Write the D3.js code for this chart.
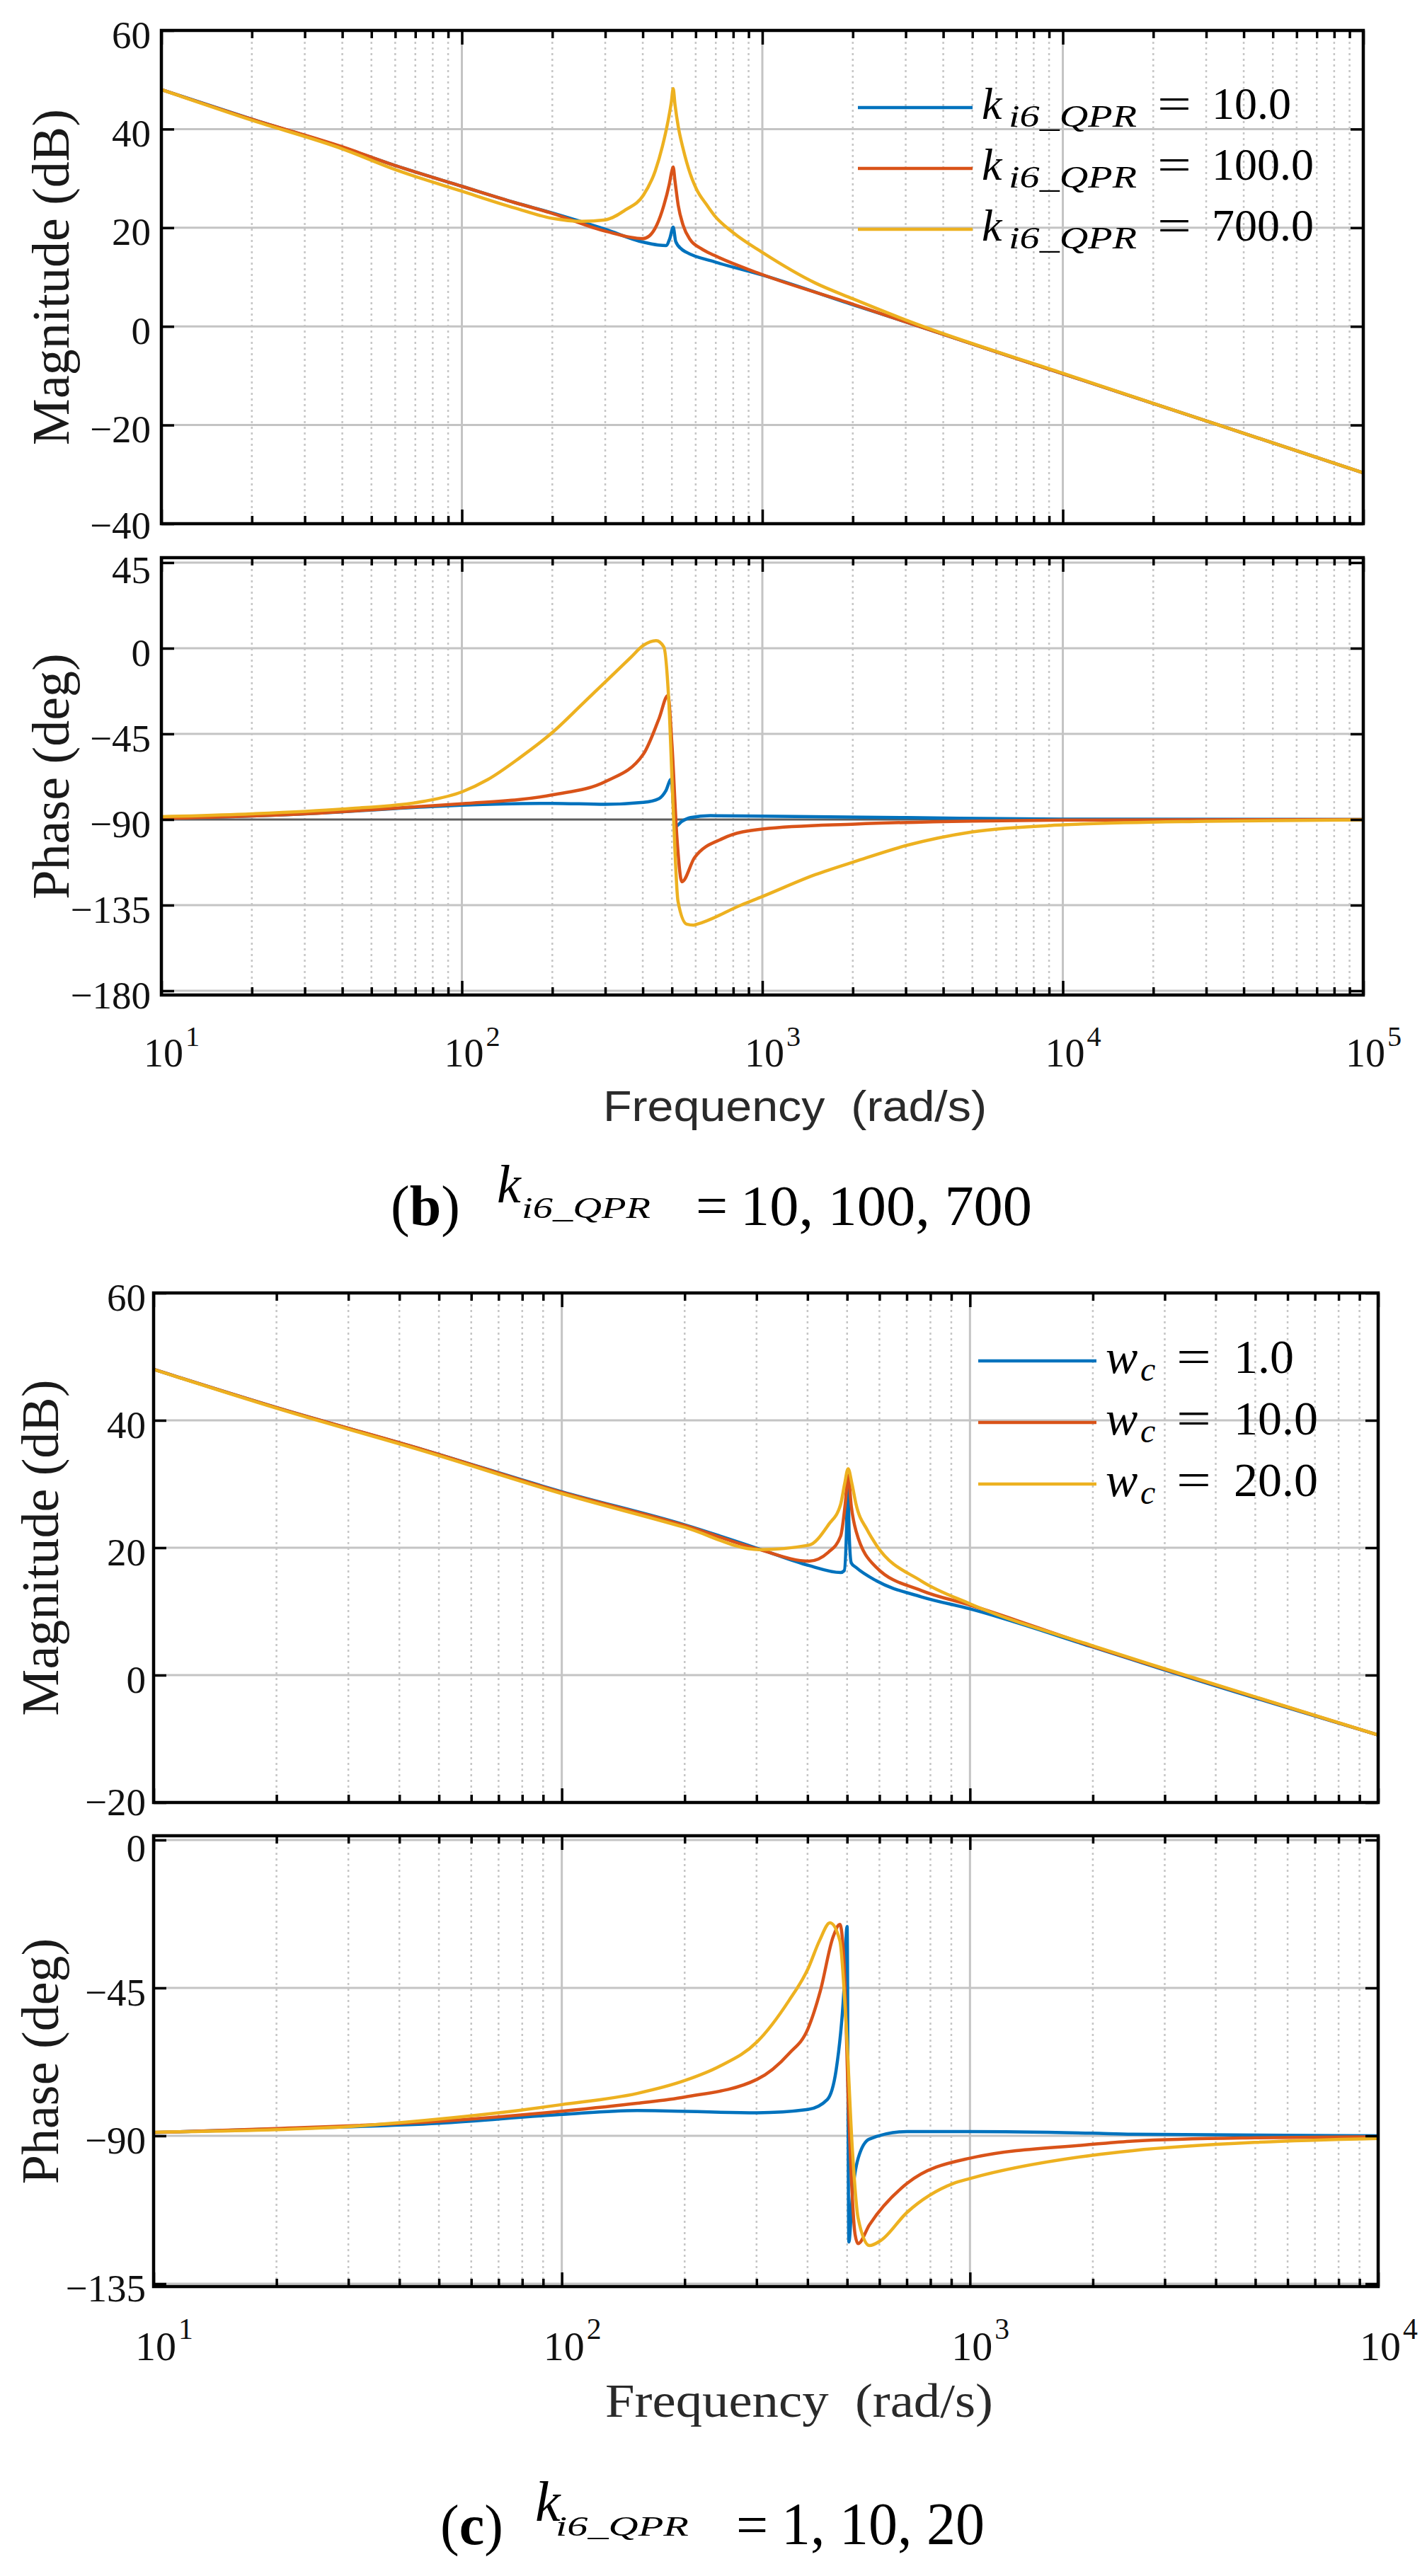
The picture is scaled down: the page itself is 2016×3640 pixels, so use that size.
<!DOCTYPE html>
<html>
<head>
<meta charset="utf-8">
<script src="https://cdn.jsdelivr.net/npm/d3@7"></script>
<style>
  body { margin: 0; background: #fff; }
  svg { display: block; }
</style>
</head>
<body>
<div id="chart"></div>
<script>
const W = 2016,
      H = 3640;

const colors = ['#0072BD', '#D95319', '#EDB120'];
const serif = "'Liberation Serif', 'Times New Roman', serif";
const sans = "'Liberation Sans', Arial, sans-serif";

// (b) k_i6_QPR = 10, 100, 700   -> [rad/s, value]
const magB10 = [[10,48],[20,42],[40,36.3],[60,32.6],[100,28.4],[150,25.1],[200,23.0],[300,19.7],[400,17.1],[450,16.5],[478,16.4],[492,17.8],[505,20.1],[515,17.2],[540,15.6],[560,15.0],[692,13.1],[1000,10.4],[2000,4.4],[3000,0.9],[10000,-9.6],[31600,-19.6],[100000,-29.7]];
const magB100 = [[10,48],[20,42],[40,36.4],[60,32.6],[100,28.4],[150,25.1],[200,22.9],[300,19.3],[400,17.8],[420,18.3],[445,20.5],[470,24.5],[490,28.8],[500,31.5],[505,32.3],[512,29.5],[525,24.5],[545,20.5],[575,17.6],[625,15.8],[692,14.4],[1000,10.5],[2000,4.5],[3000,0.9],[10000,-9.6],[31600,-19.6],[100000,-29.7]];
const magB700 = [[10,48],[20,41.8],[40,36.0],[60,31.8],[100,27.4],[150,24.0],[200,21.9],[250,21.3],[300,21.6],[350,23.6],[402,26.6],[440,31.5],[465,36.5],[485,41.5],[498,45.5],[505,48.2],[512,45],[525,40.5],[545,36],[575,31],[604,27.8],[650,24.8],[692,22.5],[800,19.0],[1000,15.0],[1500,8.8],[2000,5.6],[3000,1.3],[10000,-9.5],[31600,-19.6],[100000,-29.7]];

const phaseB10 = [[10,-89.5],[30,-87],[75,-83.4],[100,-82.5],[200,-81.5],[300,-82],[402,-81],[453,-79],[477,-75],[497,-68.9],[513,-93.7],[540,-91],[577,-89],[672,-88],[1000,-88.2],[3040,-89],[10000,-89.8],[100000,-90]];
const phaseB100 = [[10,-89.5],[30,-87],[75,-83],[100,-81.7],[201,-77],[301,-70],[402,-55.6],[453,-37],[485,-24.8],[500,-50],[520,-100],[540,-122.7],[595,-110],[738,-100],[1000,-95],[2040,-92.4],[5000,-90.8],[10000,-90.3],[100000,-90]];
const phaseB700 = [[10,-88.5],[20,-87],[40,-84.5],[75,-80.4],[100,-75.5],[122,-69],[156,-57.5],[201,-44],[253,-29],[301,-17.5],[364,-5],[402,1.5],[443,4],[470,0.7],[488,-27],[505,-84],[524,-133],[560,-145],[590,-145.5],[607,-145],[849,-135],[1000,-130.5],[1500,-119],[2040,-112],[3040,-103.5],[5000,-96.5],[10000,-92.8],[30000,-90.9],[100000,-90.2]];

const legendB = ['10.0', '100.0', '700.0'];

// (c) w_c = 1, 10, 20
const magC1 = [[10,48],[20,42],[46.3,35.3],[100,28.8],[200,23.6],[305,19.8],[403,17.2],[482,16.1],[492,16.4],[498,22],[502,31.0],[506,22],[512,17.6],[526,16.9],[590,14.8],[759,12.3],[1000,10.4],[2000,4.4],[3000,0.8],[10000,-9.4]];
const magC10 = [[10,48],[20,42],[46.3,35.3],[100,28.7],[200,23.5],[305,19.7],[403,17.9],[450,19.3],[482,21.8],[495,27.0],[503,31.4],[512,26.5],[526,22.6],[590,16.9],[759,13.3],[1000,11.0],[2000,4.5],[3000,0.9],[10000,-9.4]];
const magC20 = [[10,48],[20,41.9],[46.3,35.1],[100,28.5],[200,23.2],[305,19.7],[403,20.4],[450,23.6],[482,26.8],[493,30.0],[503,32.4],[514,30.0],[526,26.8],[560,22.8],[590,20.4],[759,14.8],[1000,11.2],[2000,4.6],[3000,1.0],[10000,-9.4]];

const phaseC1 = [[10,-89],[20,-87.9],[50,-86.2],[100,-83.5],[153,-82.3],[301,-83],[401,-82],[447,-79],[470,-70],[491,-45.9],[500,-26.3],[505,-122.3],[515,-108],[532,-96.9],[567,-91],[701,-88.7],[1000,-88.7],[1995,-89.2],[2505,-89.5],[10000,-90]];
const phaseC10 = [[10,-89],[20,-87.8],[50,-85.6],[100,-82.5],[153,-80.1],[200,-78.2],[301,-72.8],[360,-65],[401,-57.4],[430,-45.9],[462,-29.5],[480,-25.7],[491,-36.4],[505,-84.4],[523,-120],[532,-122.8],[567,-117.1],[701,-104.5],[1000,-96.8],[1995,-92.6],[2505,-91.6],[5000,-90.6],[10000,-90.3]];
const phaseC20 = [[10,-88.9],[20,-88.1],[30,-87.2],[40,-86],[70,-83],[100,-80.5],[153,-77.1],[200,-73.2],[243,-68.9],[301,-61.4],[360,-48.9],[401,-39.2],[428,-30.6],[454,-25.2],[480,-30.6],[497,-55.6],[515,-94],[532,-115],[567,-123.4],[604,-121.9],[701,-113.3],[910,-104.5],[1000,-103],[1995,-95.9],[2505,-94.5],[5000,-92],[10000,-90.8]];

const legendC = ['1.0', '10.0', '20.0'];

const magTicksB = [60, 40, 20, 0, -20, -40];
const phaseTicksB = [45, 0, -45, -90, -135, -180];
const magTicksC = [60, 40, 20, 0, -20];
const phaseTicksC = [0, -45, -90, -135];

const svg = d3
  .select('#chart')
  .append('svg')
  .attr('width', W)
  .attr('height', H);

let clipCount = 0;

function font(sel, family, size) {
  return sel
    .attr('font-family', family)
    .style('font-family', family)
    .attr('font-size', size)
    .style('font-size', size + 'px');
}

function tickAxis(g, axis, tx, ty) {
  g.append('g')
    .attr('transform', `translate(${tx}, ${ty})`)
    .call(axis)
    .call(a => a.select('.domain').remove())
    .call(a => a.selectAll('line').attr('stroke', '#000').attr('stroke-width', 3.5));
}

function panel(p) {
  const x = d3.scaleLog().domain(p.xDomain).range([p.left, p.right]);
  const y = d3.scaleLinear()
    .domain([p.yTicks[0], p.yTicks[p.yTicks.length - 1]])
    .range([p.top, p.bottom]);
  const fTop = p.top - (p.padTop || 0),
        fBot = p.bottom + (p.padBottom || 0);

  const g = svg.append('g');
  const all = x.ticks();
  const majors = all.filter(v => Math.abs(Math.log10(v) - Math.round(Math.log10(v))) < 1e-9);
  const minors = all.filter(v => !majors.includes(v));

  // grid
  g.selectAll('.minor-grid')
    .data(minors)
    .enter()
    .append('line')
    .attr('class', 'minor-grid')
    .attr('x1', d => x(d)).attr('x2', d => x(d))
    .attr('y1', fTop).attr('y2', fBot)
    .attr('stroke', '#c6c6c6')
    .attr('stroke-width', 2.5)
    .attr('stroke-dasharray', '3,5');

  g.selectAll('.major-grid')
    .data(majors)
    .enter()
    .append('line')
    .attr('class', 'major-grid')
    .attr('x1', d => x(d)).attr('x2', d => x(d))
    .attr('y1', fTop).attr('y2', fBot)
    .attr('stroke', '#c4c4c4')
    .attr('stroke-width', 3);

  g.selectAll('.h-grid')
    .data(p.yTicks)
    .enter()
    .append('line')
    .attr('class', 'h-grid')
    .attr('x1', p.left).attr('x2', p.right)
    .attr('y1', d => y(d)).attr('y2', d => y(d))
    .attr('stroke', d => d === p.darkLine ? '#5e5e5e' : '#c4c4c4')
    .attr('stroke-width', 3);

  // curves
  const clipId = 'clip' + (clipCount++);
  g.append('clipPath')
    .attr('id', clipId)
    .append('rect')
    .attr('x', p.left).attr('y', fTop)
    .attr('width', p.right - p.left).attr('height', fBot - fTop);

  const line = d3.line()
    .x(d => x(d[0]))
    .y(d => y(d[1]))
    .curve(d3.curveMonotoneX);

  g.append('g')
    .attr('clip-path', `url(#${clipId})`)
    .selectAll('path')
    .data(p.series)
    .enter()
    .append('path')
    .attr('d', line)
    .attr('fill', 'none')
    .attr('stroke', (d, i) => colors[i])
    .attr('stroke-width', 4.5)
    .attr('stroke-linejoin', 'round');

  // ticks on all four sides, pointing inward
  tickAxis(g, d3.axisTop(x).tickValues(minors).tickSize(-11).tickFormat(''), 0, fTop);
  tickAxis(g, d3.axisTop(x).tickValues(majors).tickSize(-20).tickFormat(''), 0, fTop);
  tickAxis(g, d3.axisBottom(x).tickValues(minors).tickSize(-11).tickFormat(''), 0, fBot);
  tickAxis(g, d3.axisBottom(x).tickValues(majors).tickSize(-20).tickFormat(''), 0, fBot);
  tickAxis(g, d3.axisRight(y).tickValues(p.yTicks).tickSize(-18).tickFormat(''), p.right, 0);

  const last = p.yTicks[p.yTicks.length - 1];
  g.append('g')
    .attr('transform', `translate(${p.left}, 0)`)
    .call(d3.axisLeft(y).tickValues(p.yTicks).tickSize(-18).tickPadding(p.labelPad).tickFormat(d3.format('d')))
    .call(a => a.select('.domain').remove())
    .call(a => a.selectAll('line').attr('stroke', '#000').attr('stroke-width', 3.5))
    .call(a => font(a.selectAll('text'), serif, 55)
      .attr('fill', '#111')
      .attr('dy', d => (d === last ? p.lastShift || 24 : d === p.yTicks[0] ? p.firstShift || 24 : 24)));

  // frame
  g.append('rect')
    .attr('x', p.left).attr('y', fTop)
    .attr('width', p.right - p.left).attr('height', fBot - fTop)
    .attr('fill', 'none')
    .attr('stroke', '#000')
    .attr('stroke-width', 4.5);

  // y title
  font(g.append('text'), serif, 74)
    .attr('transform', `translate(${p.titleX}, ${(fTop + fBot) / 2}) rotate(-90)`)
    .attr('text-anchor', 'middle')
    .attr('fill', '#1a1a1a')
    .text(p.title);

  // decade labels 10^n
  if (p.xLabelY) {
    font(g.selectAll('.x-label')
      .data(majors)
      .enter()
      .append('text')
      .attr('class', 'x-label'), serif, p.xFont)
      .attr('x', d => x(d) - p.xFont * 0.5 + 3)
      .attr('y', p.xLabelY)
      .attr('fill', '#111')
      .each(function (d) {
        const t = d3.select(this);
        t.append('tspan').text('10');
        t.append('tspan')
          .attr('dx', 3)
          .attr('dy', -p.xFont * 0.52)
          .style('font-size', (p.xFont * 0.72) + 'px')
          .text(Math.round(Math.log10(d)));
      });
  }
}

function txt(x, y, s, size, opts = {}) {
  const t = font(svg.append('text'), opts.family || serif, size)
    .attr('x', x)
    .attr('y', y)
    .attr('fill', opts.fill || '#000')
    .style('white-space', 'pre')
    .text(s);
  if (opts.italic) t.style('font-style', 'italic');
  if (opts.anchor) t.attr('text-anchor', opts.anchor);
  if (opts.len) t.attr('textLength', opts.len).attr('lengthAdjust', 'spacingAndGlyphs');
  return t;
}

// ---------- figure (b) ----------
panel({
  left: 228, right: 1926, top: 43, bottom: 740,
  xDomain: [10, 1e5], yTicks: magTicksB, labelPad: 15, lastShift: 20,
  series: [magB10, magB100, magB700],
  title: 'Magnitude (dB)', titleX: 97
});

panel({
  left: 228, right: 1926, top: 795, bottom: 1400, padTop: 7, padBottom: 6,
  xDomain: [10, 1e5], yTicks: phaseTicksB, labelPad: 15, darkLine: -90, firstShift: 28,
  series: [phaseB10, phaseB100, phaseB700],
  title: 'Phase (deg)', titleX: 97,
  xLabelY: 1507, xFont: 56
});

txt(1123, 1584, 'Frequency  (rad/s)', 62, { family: sans, anchor: 'middle', fill: '#2a2a2a', len: 542 });

const legB = svg.append('g').attr('id', 'legend-b');
legendB.forEach((v, i) => {
  const ry = 152 + i * 86;
  legB.append('line')
    .attr('x1', 1212).attr('x2', 1374)
    .attr('y1', ry).attr('y2', ry)
    .attr('stroke', colors[i])
    .attr('stroke-width', 4.5);
  txt(1387, ry + 16, 'k', 64, { italic: true });
  txt(1425, ry + 27, 'i6_QPR', 44, { italic: true, len: 181 });
  txt(1635, ry + 16, '=', 64, { len: 48 });
  txt(1712, ry + 16, v, 64);
});

const capB = txt(552, 1731, '(', 80);
capB.append('tspan').style('font-weight', 'bold').text('b');
capB.append('tspan').text(')');
txt(702, 1699, 'k', 76, { italic: true });
txt(737, 1721, 'i6_QPR', 42, { italic: true, len: 182 });
txt(983, 1731, '=', 80);
txt(1046, 1731, '10, 100, 700', 80, { len: 412 });

// ---------- figure (c) ----------
panel({
  left: 217, right: 1947, top: 1827, bottom: 2547,
  xDomain: [10, 1e4], yTicks: magTicksC, labelPad: 11, lastShift: 17,
  series: [magC1, magC10, magC20],
  title: 'Magnitude (dB)', titleX: 82
});

panel({
  left: 217, right: 1947, top: 2600, bottom: 3227, padTop: 6, padBottom: 4,
  xDomain: [10, 1e4], yTicks: phaseTicksC, labelPad: 11, firstShift: 29,
  series: [phaseC1, phaseC10, phaseC20],
  title: 'Phase (deg)', titleX: 82,
  xLabelY: 3335, xFont: 58
});

txt(1129, 3415, 'Frequency  (rad/s)', 68, { anchor: 'middle', fill: '#2a2a2a', len: 548 });

const legC = svg.append('g').attr('id', 'legend-c');
legendC.forEach((v, i) => {
  const ry = 1923 + i * 87;
  legC.append('line')
    .attr('x1', 1382).attr('x2', 1549)
    .attr('y1', ry).attr('y2', ry)
    .attr('stroke', colors[i])
    .attr('stroke-width', 4.5);
  txt(1562, ry + 17, 'w', 68, { italic: true });
  txt(1611, ry + 28, 'c', 48, { italic: true });
  txt(1662, ry + 17, '=', 68, { len: 49 });
  txt(1743, ry + 17, v, 68);
});

const capC = txt(622, 3595, '(', 80);
capC.append('tspan').style('font-weight', 'bold').text('c');
capC.append('tspan').text(')');
txt(756, 3562, 'k', 80, { italic: true });
txt(785, 3583, 'i6_QPR', 40, { italic: true, len: 188 });
txt(1040, 3595, '=', 80);
txt(1104, 3595, '1, 10, 20', 84, { len: 287 });
</script>
</body>
</html>
